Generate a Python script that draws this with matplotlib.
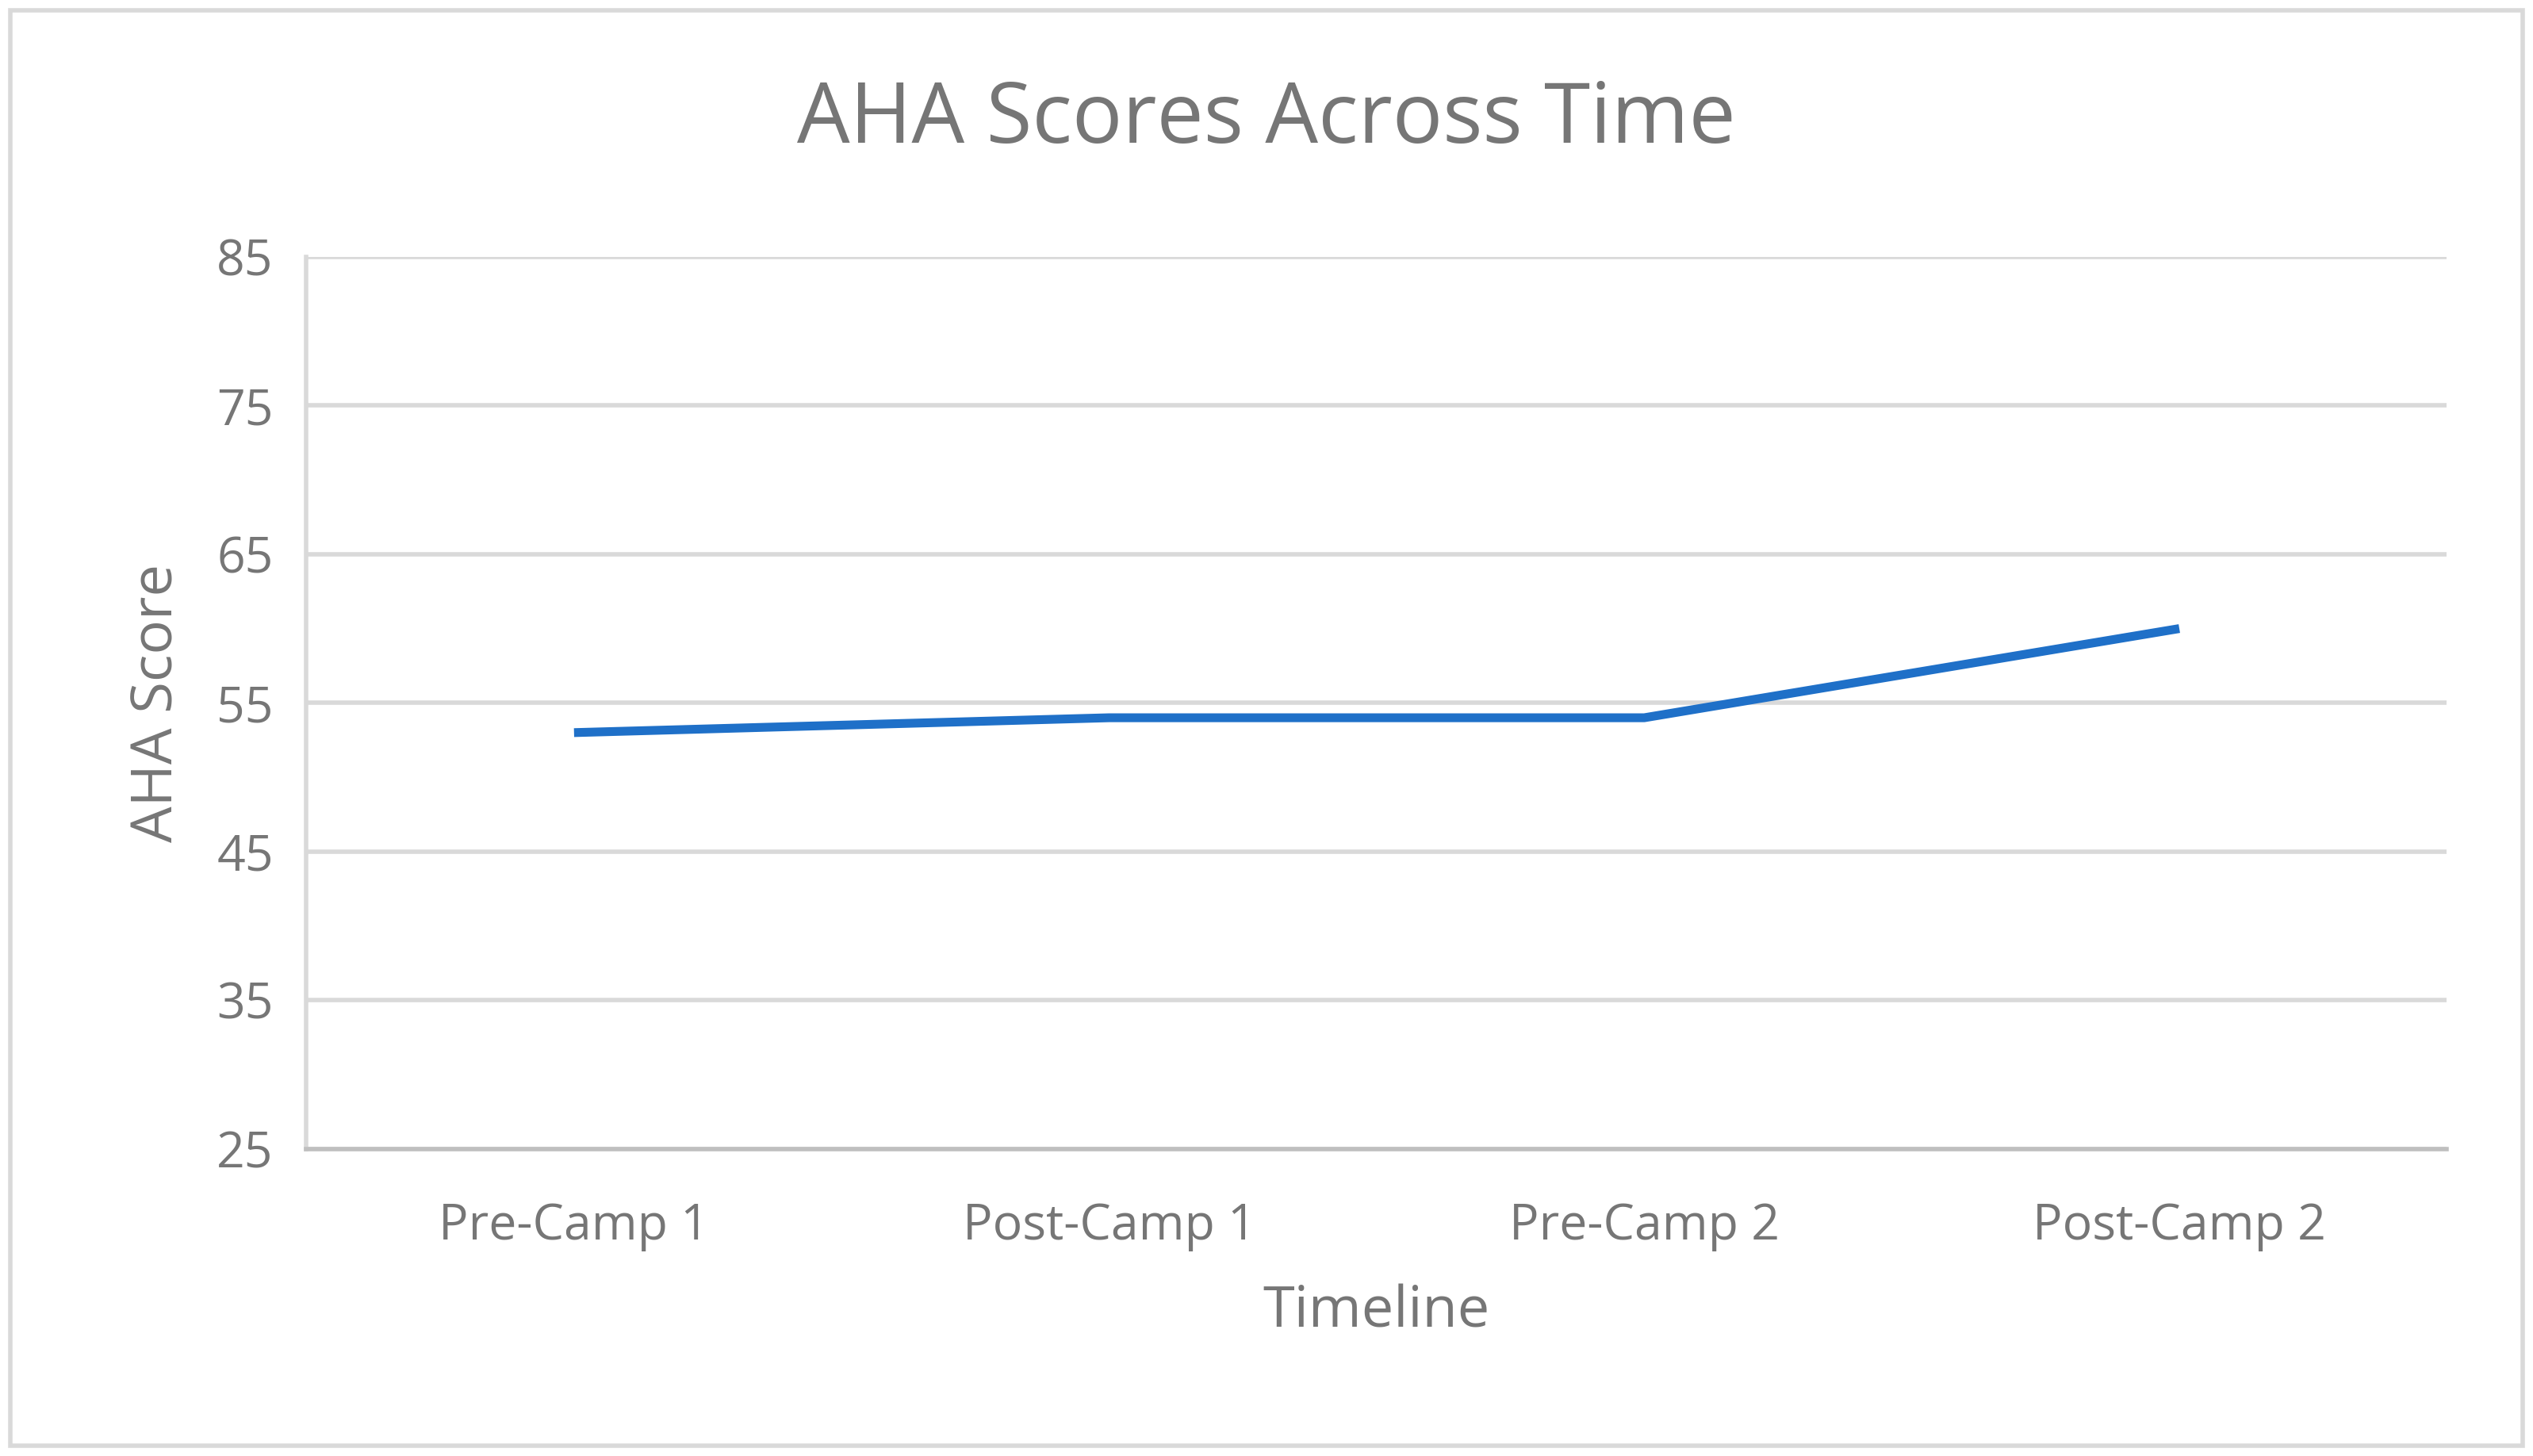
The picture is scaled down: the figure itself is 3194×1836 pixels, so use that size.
import matplotlib.pyplot as plt
from matplotlib.patches import Rectangle

categories = ["Pre-Camp 1", "Post-Camp 1", "Pre-Camp 2", "Post-Camp 2"]
scores = [53, 54, 54, 60]
y_ticks = [25, 35, 45, 55, 65, 75, 85]

plt.rcParams["font.family"] = ["Open Sans", "DejaVu Sans"]
text_color = "#767676"

fig = plt.figure(figsize=(31.94, 18.36), dpi=100)
ax = fig.add_axes([0.121, 0.211, 0.845, 0.6125])

x = list(range(len(categories)))
ax.plot(x, scores, color="#1F70C8", linewidth=8, solid_capstyle="butt", zorder=3)

ax.set_xlim(-0.5, len(categories) - 0.5)
ax.set_ylim(25, 85)
ax.set_yticks(y_ticks)
ax.set_xticks(x)
ax.set_xticklabels(categories)
ax.grid(axis="y", color="#D9D9D9", linewidth=4)
ax.set_axisbelow(True)

for side in ("top", "right"):
    ax.spines[side].set_visible(False)
ax.spines["left"].set_color("#D9D9D9")
ax.spines["left"].set_linewidth(4)
ax.spines["bottom"].set_color("#BFBFBF")
ax.spines["bottom"].set_linewidth(4)
ax.tick_params(axis="both", length=0, labelsize=45, labelcolor=text_color)
ax.tick_params(axis="x", pad=48)
ax.tick_params(axis="y", pad=30)

ax.set_xlabel("Timeline", fontsize=52, color=text_color, labelpad=30)
ax.set_ylabel("AHA Score", fontsize=52, color=text_color, labelpad=28)
fig.text(0.5, 0.917, "AHA Scores Across Time", ha="center", va="center",
         fontsize=76, color=text_color)

fig.patches.append(Rectangle((0.004, 0.007), 0.992, 0.986, transform=fig.transFigure,
                             fill=False, edgecolor="#D9D9D9", linewidth=4))

fig.savefig("out.png", dpi=100, facecolor="white")
